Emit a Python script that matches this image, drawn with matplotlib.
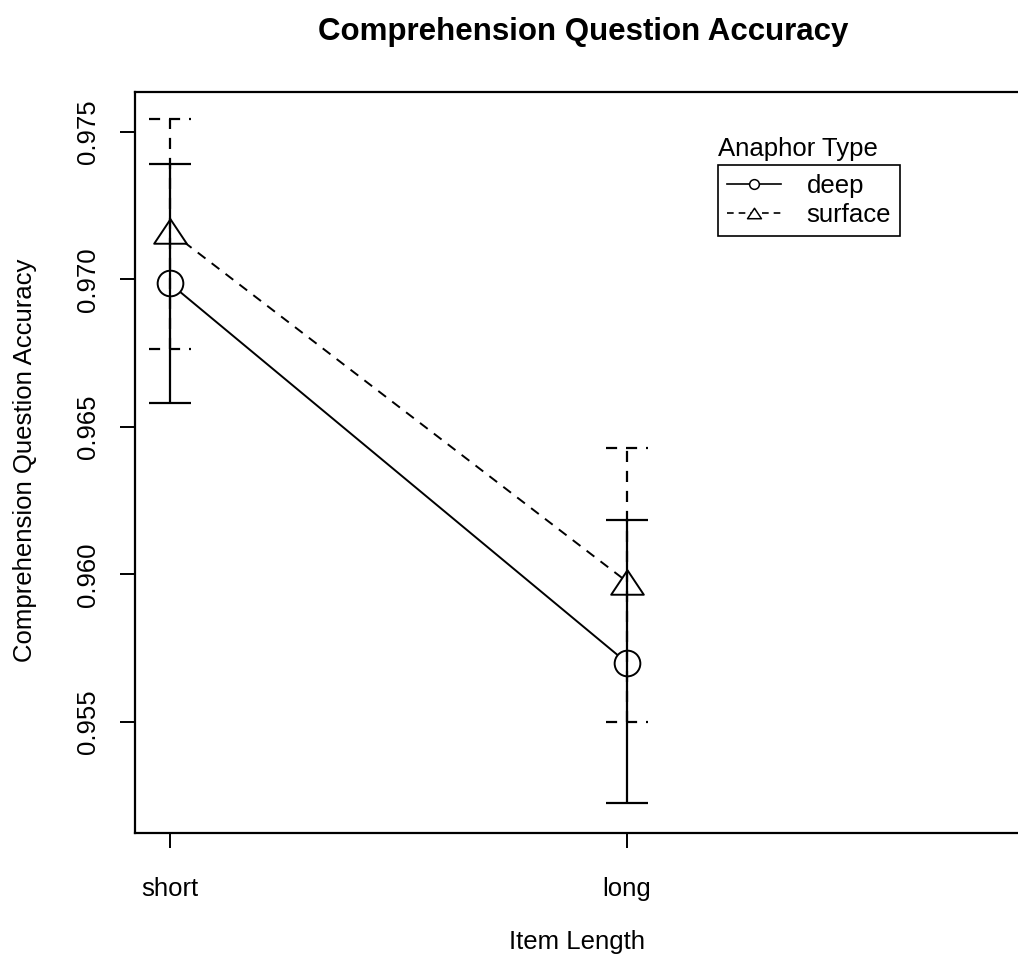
import numpy as np
import matplotlib
matplotlib.use("Agg")
import matplotlib.pyplot as plt
from matplotlib.lines import Line2D
from matplotlib.path import Path

plt.rcParams["font.family"] = ["Liberation Sans", "DejaVu Sans"]

# data
lengths = ["short", "long"]
anaphor_types = ["deep", "surface"]
deep_mean = [0.96986, 0.95701]
deep_lower = [0.96581, 0.95227]
deep_upper = [0.97390, 0.96183]
surface_mean = [0.97163, 0.95976]
surface_lower = [0.96763, 0.95500]
surface_upper = [0.97545, 0.96429]
y_ticks = [0.955, 0.960, 0.965, 0.970, 0.975]

fig = plt.figure(figsize=(10.18, 9.58), dpi=100)
ax = fig.add_axes([0.1326, 0.1308, 0.879, 0.7735])

x = np.arange(1, len(lengths) + 1)
# open triangle, wider than tall like R's pch 2
tri = Path([(-1, -0.75), (1, -0.75), (0, 0.75), (-1, -0.75)], closed=True)
cap = 0.046
dash = (0, (5, 4))

series = [
    (deep_mean, deep_lower, deep_upper, "-", "o", 18.5),
    (surface_mean, surface_lower, surface_upper, dash, tri, 23.5),
]
for mean, lo, hi, ls, mk, ms in series:
    # error bars go over the markers, as in the original
    ax.vlines(x, lo, hi, colors="black", linestyles=ls, lw=1.6, zorder=4)
    ax.hlines(lo, x - cap, x + cap, colors="black", linestyles=ls, lw=1.6, zorder=4)
    ax.hlines(hi, x - cap, x + cap, colors="black", linestyles=ls, lw=1.6, zorder=4)
    ax.plot(x, mean, color="black", linestyle=ls, lw=1.4, marker=mk, ms=ms,
            mfc="white", mec="black", mew=1.4, zorder=3)

ax.set_xlim(0.9234, 2.882)
ax.set_ylim(0.95125, 0.97636)
ax.set_xticks(x)
ax.set_xticklabels(lengths)
ax.set_yticks(y_ticks)
ax.set_yticklabels([f"{v:.3f}" for v in y_ticks], rotation=90, va="center")
ax.tick_params(axis="both", direction="out", length=11, width=1.4, labelsize=18.5)
ax.tick_params(axis="x", pad=21)
ax.tick_params(axis="y", pad=14)
for s in ax.spines.values():
    s.set_linewidth(1.6)
ax.spines["right"].set_visible(False)

handles = [
    Line2D([], [], color="black", lw=1.2, ls="-", marker="o", ms=7,
           mfc="white", mec="black", mew=1.1),
    Line2D([], [], color="black", lw=1.2, ls=(0, (4, 3)), marker=tri, ms=10,
           mfc="white", mec="black", mew=1.1),
]
leg = ax.legend(handles, anaphor_types, loc="upper left",
                bbox_to_anchor=(0.6514, 0.901), borderaxespad=0,
                fancybox=False, edgecolor="black", framealpha=1,
                fontsize=18.5, handlelength=2.1, handletextpad=1.0,
                labelspacing=0.2, borderpad=0.35)
leg.get_frame().set_linewidth(1.2)
ax.text(0.6514, 0.922, "Anaphor Type", transform=ax.transAxes,
        ha="left", va="center", fontsize=18.5)

fig.text(0.5726, 0.9666, "Comprehension Question Accuracy", ha="center",
         va="center", fontsize=22.5, fontweight="bold")
fig.text(0.5668, 1 - 942 / 958, "Item Length", ha="center", va="center",
         fontsize=18.5)
fig.text(25 / 1018, 1 - 460 / 958, "Comprehension Question Accuracy",
         rotation=90, ha="center", va="center", fontsize=18.5)

fig.savefig("out.png", dpi=100)
